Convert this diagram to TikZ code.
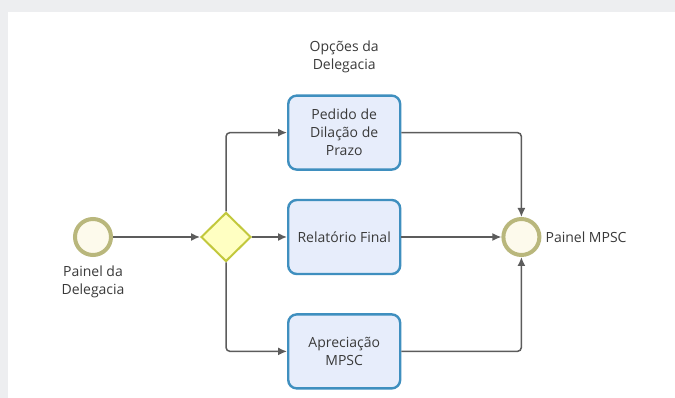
\documentclass[tikz,border=0pt]{standalone}
\usepackage{fontspec}
\setmainfont{Open Sans}
\usepackage{xcolor}
\definecolor{FrameGray}{HTML}{EDEEF0}
\definecolor{TaskFill}{HTML}{E7EDFB}
\definecolor{TaskBlue}{HTML}{3F8FBF}
\definecolor{GateFill}{HTML}{FFFFC2}
\definecolor{GateLine}{HTML}{C2C83C}
\definecolor{EventRing}{HTML}{B9B77C}
\definecolor{EventFill}{HTML}{FDFAEC}
\definecolor{FlowGray}{HTML}{5C5C5C}
\definecolor{TextGray}{HTML}{3A3A3A}
\usepackage{tikz}
\usetikzlibrary{positioning,shapes.geometric,arrows.meta}

\begin{document}
\begin{tikzpicture}[
        x=1pt, y=1pt,
        every node/.style={font=\fontsize{14}{18}\selectfont, text=TextGray},
        task/.style={
            rectangle, rounded corners=3mm,
            draw=TaskBlue, fill=TaskFill, line width=2.4pt,
            minimum width=112pt, minimum height=74pt,
            align=center, inner sep=2pt
        },
        gateway/.style={
            diamond, draw=GateLine, fill=GateFill, line width=2pt,
            minimum width=50pt, minimum height=49pt, inner sep=0pt
        },
        event/.style={
            circle, draw=EventRing, fill=EventFill, line width=4pt,
            minimum size=36pt, inner sep=0pt
        },
        txt/.style={align=center, inner sep=1pt},
        arrow/.style={-{Latex[length=9pt,width=8pt]}, line width=1.5pt,
            draw=FlowGray, rounded corners=4pt}
    ]
        % page frame
        \fill[FrameGray] (0,0) rectangle (675,-398);
        \fill[white] (8,-12) rectangle (675,-398);
        \useasboundingbox (0,0) rectangle (675,-398);

        \node[event] (start) at (93,-237) {};
        \node[txt, below=8pt of start] (startlbl) {Painel da\\Delegacia};
        \node[gateway, right=87pt of start] (gw) {};
        \node[task, right=35pt of gw] (final) {Relatório Final};
        \node[task, above=28pt of final] (prazo) {Pedido de\\Dilação de\\Prazo};
        \node[task, below=38pt of final] (aprec) {Apreciação\\MPSC};
        \node[txt, above=20pt of prazo] (optlbl) {Opções da\\Delegacia};
        \node[event, right=100pt of final] (end) {};
        \node[txt, right=3pt of end] (endlbl) {Painel MPSC};

        \draw[arrow] (start) -- (gw);
        \draw[arrow] (gw) -- (final);
        \draw[arrow] (gw.north) |- (prazo);
        \draw[arrow] (gw.south) |- (aprec);
        \draw[arrow] (final) -- (end);
        \draw[arrow] (prazo) -| (end);
        \draw[arrow] (aprec) -| (end);
    \end{tikzpicture}
\end{document}
